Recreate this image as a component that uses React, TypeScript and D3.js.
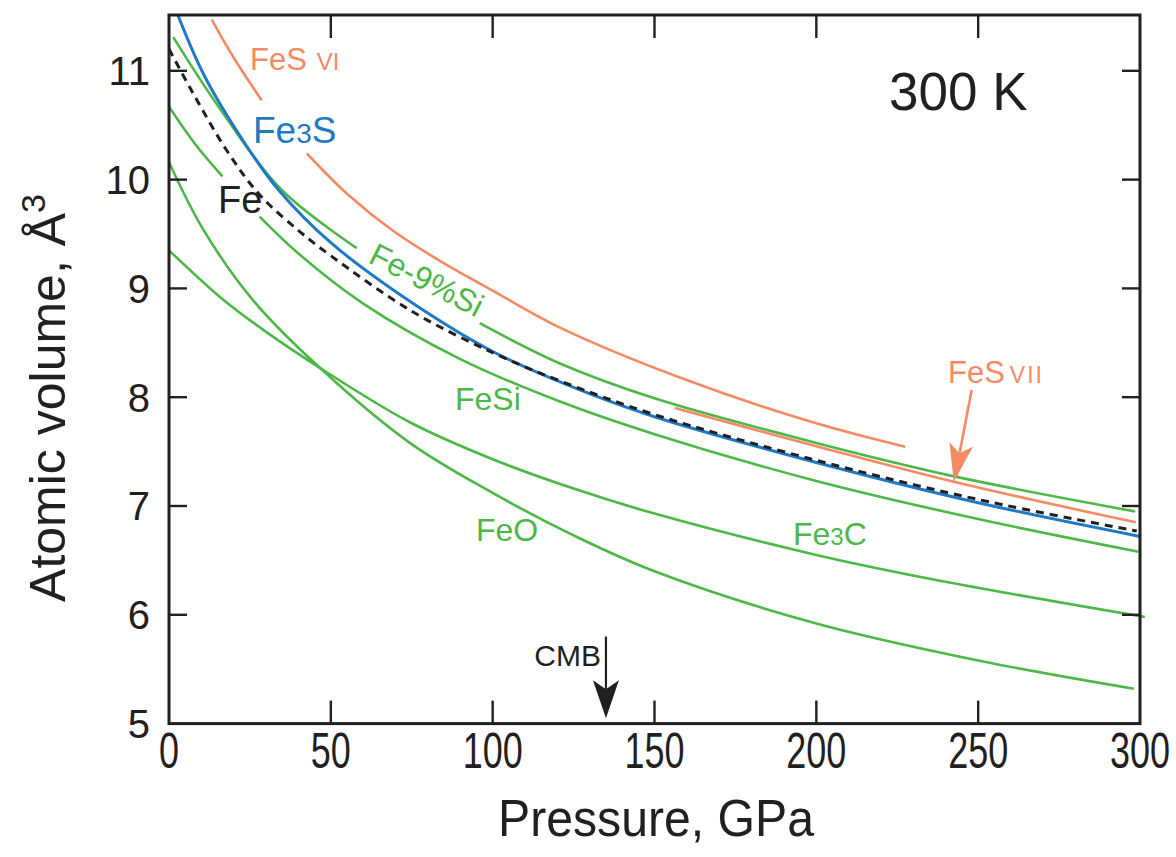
import React from 'react';
import * as d3 from 'd3';

// ---------- data (pressure GPa, atomic volume Å^3) ----------
const X_TICKS = [0, 50, 100, 150, 200, 250, 300];
const Y_TICKS = [5, 6, 7, 8, 9, 10, 11];

const P_FE = [0, 7.5, 17.8, 28, 40.5, 50, 75, 100, 120.8, 150, 200, 250, 299];
const V_FE = [11.2, 10.79, 10.27, 9.86, 9.52, 9.3, 8.79, 8.41, 8.15, 7.84, 7.42, 7.06, 6.77];

const P_FE3S = [2.5, 11, 23.5, 34, 50, 75, 100, 125, 150, 200, 250, 300];
const V_FE3S = [11.53, 10.95, 10.33, 9.9, 9.42, 8.87, 8.42, 8.09, 7.82, 7.4, 7.03, 6.72];

const P_FESI9_A = [1.3, 16, 35, 58];
const V_FESI9_A = [11.31, 10.64, 9.9, 9.37];
const P_FESI9_B = [96, 120.8, 150, 200, 243, 298.5];
const V_FESI9_B = [8.68, 8.31, 7.99, 7.58, 7.27, 6.95];

const P_FESI_A = [0, 8, 16.5];
const V_FESI_A = [10.67, 10.33, 10.03];
const P_FESI_B = [28, 40, 60, 90, 120.8, 150, 200, 250, 299.5];
const V_FESI_B = [9.66, 9.32, 8.86, 8.35, 7.96, 7.66, 7.23, 6.88, 6.58];

const P_FE3C = [0, 16.2, 30, 46.6, 74.4, 100, 125, 150, 200, 237, 301.5];
const V_FE3C = [9.35, 8.91, 8.6, 8.27, 7.77, 7.43, 7.16, 6.93, 6.55, 6.32, 5.98];

const P_FEO = [0, 10.6, 26, 46.6, 74.4, 100, 125, 150, 200, 250, 298.1];
const V_FEO = [10.16, 9.54, 8.89, 8.27, 7.58, 7.12, 6.73, 6.4, 5.92, 5.58, 5.32];

const P_FES6_A = [13.2, 20, 28.6];
const V_FES6_A = [11.47, 11.12, 10.73];
const P_FES6_B = [42.6, 55, 69.2, 85, 100, 120.8, 159.7, 200, 227.4];
const V_FES6_B = [10.24, 9.87, 9.53, 9.23, 8.98, 8.64, 8.16, 7.76, 7.545];

const P_FES7 = [156.3, 200, 242.8, 298.7];
const V_FES7 = [7.9, 7.55, 7.22, 6.85];

const CMB_P = 135;
const CMB_V_TAIL = 5.8;
const CMB_V_TIP = 5.05;
const FES7_ARROW_TAIL: [number, number] = [248, 8.066];
const FES7_ARROW_TIP: [number, number] = [242.5, 7.223];

// ---------- style ----------
const GREEN = '#4DB848';
const ORANGE = '#F58A63';
const BLUE = '#1F7AC3';
const BLACK = '#231F20';
const FONT = '"Liberation Sans", Arial, Helvetica, sans-serif';

const zip = (p: number[], v: number[]) => p.map((pp, i) => [pp, v[i]] as [number, number]);

const series = [
  { key: 'feo', color: GREEN, w: 2.6, dash: '', segs: [zip(P_FEO, V_FEO)] },
  { key: 'fe3c', color: GREEN, w: 2.6, dash: '', segs: [zip(P_FE3C, V_FE3C)] },
  { key: 'fesi', color: GREEN, w: 2.6, dash: '', segs: [zip(P_FESI_A, V_FESI_A), zip(P_FESI_B, V_FESI_B)] },
  { key: 'fesi9', color: GREEN, w: 2.6, dash: '', segs: [zip(P_FESI9_A, V_FESI9_A), zip(P_FESI9_B, V_FESI9_B)] },
  { key: 'fes6', color: ORANGE, w: 2.6, dash: '', segs: [zip(P_FES6_A, V_FES6_A), zip(P_FES6_B, V_FES6_B)] },
  { key: 'fes7', color: ORANGE, w: 2.6, dash: '', segs: [zip(P_FES7, V_FES7)] },
  { key: 'fe3s', color: BLUE, w: 3, dash: '', segs: [zip(P_FE3S, V_FE3S)] },
  { key: 'fe', color: BLACK, w: 3, dash: '8 6', segs: [zip(P_FE, V_FE)] },
];

function arrowHead(tip: [number, number], tail: [number, number], L: number, hw: number, notch: number) {
  const dx = tip[0] - tail[0], dy = tip[1] - tail[1];
  const len = Math.hypot(dx, dy);
  const ux = dx / len, uy = dy / len;
  const nx = -uy, ny = ux;
  const bx = tip[0] - ux * L, by = tip[1] - uy * L;
  const p1 = [bx + nx * hw, by + ny * hw];
  const p2 = [tip[0] - ux * (L - notch), tip[1] - uy * (L - notch)];
  const p3 = [bx - nx * hw, by - ny * hw];
  return `M${tip[0]},${tip[1]}L${p1[0]},${p1[1]}L${p2[0]},${p2[1]}L${p3[0]},${p3[1]}Z`;
}

export default function App() {
  const left = 169, right = 1140, top = 15, bottom = 723.6;
  const x = d3.scaleLinear().domain([0, 300]).range([left, right]);
  const y = d3.scaleLinear().domain([5, 11.513]).range([bottom, top]);
  const line = d3
    .line<[number, number]>()
    .x((d) => x(d[0]))
    .y((d) => y(d[1]))
    .curve(d3.curveCatmullRom.alpha(0.5));

  const cmbTail: [number, number] = [x(CMB_P), y(CMB_V_TAIL)];
  const cmbTip: [number, number] = [x(CMB_P), y(CMB_V_TIP)];
  const f7Tail: [number, number] = [x(FES7_ARROW_TAIL[0]), y(FES7_ARROW_TAIL[1])];
  const f7Tip: [number, number] = [x(FES7_ARROW_TIP[0]), y(FES7_ARROW_TIP[1])];

  return (
    <svg
      width={1176}
      height={857}
      style={{ position: 'absolute', left: 0, top: 0, background: '#fff' }}
      fontFamily={FONT}
    >
      <defs>
        <clipPath id="plotclip">
          <rect x={left} y={top} width={right - left + 8} height={bottom - top} />
        </clipPath>
      </defs>
      <rect x={0} y={0} width={1176} height={857} fill="#fff" />

      <g clipPath="url(#plotclip)" fill="none" strokeLinecap="butt">
        {series.map((s) =>
          s.segs.map((seg, i) => (
            <path
              key={s.key + i}
              d={line(seg) || ''}
              stroke={s.color}
              strokeWidth={s.w}
              strokeDasharray={s.dash || undefined}
            />
          ))
        )}
      </g>

      {/* arrows */}
      <line x1={cmbTail[0]} y1={cmbTail[1]} x2={cmbTip[0]} y2={cmbTip[1] - 20} stroke={BLACK} strokeWidth={2.2} />
      <path d={arrowHead(cmbTip, cmbTail, 38, 13, 9)} fill={BLACK} />
      <line x1={f7Tail[0]} y1={f7Tail[1]} x2={f7Tip[0] + 4} y2={f7Tip[1] - 20} stroke={ORANGE} strokeWidth={2.6} />
      <path d={arrowHead(f7Tip, f7Tail, 38, 12, 9)} fill={ORANGE} />

      {/* frame */}
      <rect x={left} y={top} width={right - left} height={bottom - top} fill="none" stroke={BLACK} strokeWidth={3} />

      {/* ticks (inside, all four sides) */}
      {X_TICKS.slice(1, -1).map((t) => (
        <g key={'xt' + t} stroke={BLACK} strokeWidth={2.4}>
          <line x1={x(t)} x2={x(t)} y1={bottom} y2={bottom - 23} />
          <line x1={x(t)} x2={x(t)} y1={top} y2={top + 23} />
        </g>
      ))}
      {Y_TICKS.slice(1).map((t) => (
        <g key={'yt' + t} stroke={BLACK} strokeWidth={2.4}>
          <line x1={left} x2={left + 18} y1={y(t)} y2={y(t)} />
          <line x1={right} x2={right - 18} y1={y(t)} y2={y(t)} />
        </g>
      ))}

      {/* tick labels */}
      {X_TICKS.map((t) => (
        <text
          key={'xl' + t}
          transform={`translate(${x(t)},768) scale(0.72,1)`}
          textAnchor="middle"
          fontSize={50}
          fill={BLACK}
        >
          {t}
        </text>
      ))}
      {Y_TICKS.map((t) => (
        <text key={'yl' + t} x={150} y={y(t)} dy="0.36em" textAnchor="end" fontSize={40} fill={BLACK}>
          {t}
        </text>
      ))}

      {/* axis titles */}
      <text x={656} y={836} textAnchor="middle" fontSize={52} fill={BLACK} textLength={316} lengthAdjust="spacingAndGlyphs">
        Pressure, GPa
      </text>
      <text transform="translate(65,398) rotate(-90)" textAnchor="middle" fontSize={50} fill={BLACK}>
        Atomic volume, Å
        <tspan fontSize={34} dy={-20}>3</tspan>
      </text>

      {/* labels */}
      <text x={889} y={110} fontSize={53} fill={BLACK}>300 K</text>
      <text x={601} y={666} textAnchor="end" fontSize={30} fill={BLACK}>CMB</text>
      <text x={250} y={70} fontSize={31} fill={ORANGE}>
        FeS<tspan dx={10} fontSize={24}>VI</tspan>
      </text>
      <text x={948} y={383} fontSize={31} fill={ORANGE}>
        FeS<tspan dx={5} fontSize={23} letterSpacing={2}>VII</tspan>
      </text>
      <text x={253} y={143} fontSize={37} fill={BLUE}>
        Fe<tspan fontSize={28}>3</tspan>S
      </text>
      <text x={218} y={213} fontSize={38} fill={BLACK}>Fe</text>
      <text transform="translate(367,262) rotate(27)" fontSize={32} fill={GREEN}>Fe-9%Si</text>
      <text x={455} y={410} fontSize={32} fill={GREEN}>FeSi</text>
      <text x={476} y={541} fontSize={32} fill={GREEN}>FeO</text>
      <text x={793} y={545} fontSize={32} fill={GREEN}>
        Fe<tspan fontSize={24}>3</tspan>C
      </text>
    </svg>
  );
}
